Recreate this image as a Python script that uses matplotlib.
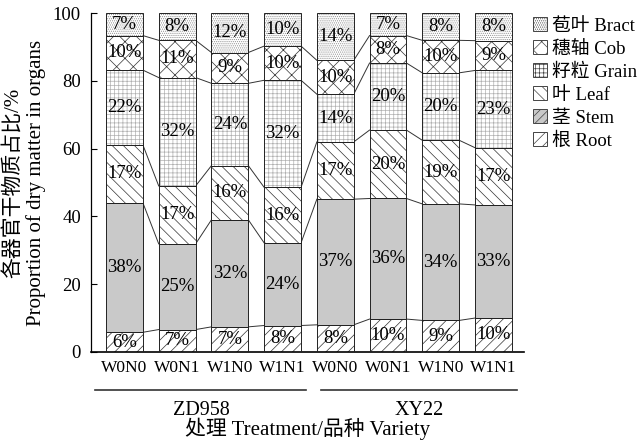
import numpy as np
import matplotlib
matplotlib.use("Agg")
import matplotlib.pyplot as plt
from matplotlib.patches import Patch

plt.rcParams['font.family'] = ['Liberation Serif', 'Noto Sans CJK SC']
plt.rcParams['hatch.linewidth'] = 0.5

treatments = ['W0N0', 'W0N1', 'W1N0', 'W1N1', 'W0N0', 'W0N1', 'W1N0', 'W1N1']
varieties = ['ZD958', 'XY22']

# dry matter share of each organ (%), bottom to top
root = [5.8, 6.6, 7.4, 7.8, 8.0, 9.7, 9.3, 10.0]
stem = [38.2, 25.3, 31.6, 24.4, 37.1, 35.6, 34.4, 33.4]
leaf = [17.1, 17.1, 16.0, 16.4, 16.9, 20.2, 18.8, 16.9]
grain = [22.1, 32.0, 24.3, 31.6, 14.1, 19.8, 19.9, 22.8]
cob = [10.2, 11.0, 9.1, 10.1, 10.0, 8.1, 9.6, 8.8]
bract = [6.6, 8.0, 11.6, 9.7, 13.9, 6.6, 8.0, 8.1]

organs = ['根 Root', '茎 Stem', '叶 Leaf', '籽粒 Grain', '穗轴 Cob', '苞叶 Bract']
hatches = ['///', '', '\\\\\\', '++++', 'xx', '........']
faces = ['white', '#c9c9c9', 'white', 'white', 'white', 'white']
hatch_cols = ['#333333', '#c9c9c9', '#333333', '#b0b0b0', '#333333', '#8a8a8a']

data = np.array([root, stem, leaf, grain, cob, bract])
x = np.arange(len(treatments))
w = 0.70

fig = plt.figure(figsize=(6.39, 4.41), dpi=100)
ax = fig.add_axes([0.142, 0.202, 0.678, 0.768])

bottom = np.zeros(len(x))
for k in range(len(organs)):
    # hatch layer first, black outline on top
    ax.bar(x, data[k], w, bottom=bottom, color=faces[k], hatch=hatches[k],
           edgecolor=hatch_cols[k], linewidth=0, zorder=2)
    ax.bar(x, data[k], w, bottom=bottom, fill=False, edgecolor='#222222',
           linewidth=0.7, zorder=3)
    for i in x:
        ax.text(i, bottom[i] + data[k][i] / 2, f"{data[k][i]:.0f}%",
                ha='center', va='center', fontsize=13.5, zorder=4)
    bottom = bottom + data[k]

# lines joining segment tops of neighbouring bars
cum = np.cumsum(data, axis=0)
for k in range(len(organs) - 1):
    for i in range(len(x) - 1):
        ax.plot([x[i] + w / 2, x[i + 1] - w / 2], [cum[k, i], cum[k, i + 1]],
                color='#333333', lw=0.7, zorder=1)

ax.set_xlim(-0.64, 7.58)
ax.set_ylim(0, 100)
ax.set_yticks([0, 20, 40, 60, 80, 100])
ax.tick_params(axis='y', direction='in', length=4, labelsize=13.5, width=0.8, pad=7)
ax.set_xticks(x)
ax.set_xticklabels(treatments, fontsize=12.5)
ax.tick_params(axis='x', length=0, pad=6)
for s in ['top', 'right']:
    ax.spines[s].set_visible(False)
ax.spines['left'].set_linewidth(0.9)
ax.spines['bottom'].set_linewidth(1.2)

ax.set_ylabel('各器官干物质占比/%\nProportion of dry matter in organs',
              fontsize=15, linespacing=1.1)
ax.yaxis.set_label_coords(-0.104, 0.5)

# variety brackets under the treatment labels
tr = ax.get_xaxis_transform()
for (a, b), name in zip([(-0.55, 3.45), (3.72, 7.45)], varieties):
    ax.plot([a, b], [-0.112, -0.112], color='#333333', lw=1.2,
            transform=tr, clip_on=False)
    ax.text((a + b) / 2, -0.174, name, ha='center', va='center',
            fontsize=14.5, transform=tr)
ax.text(0.5, -0.228, '处理 Treatment/品种 Variety', ha='center', va='center',
        fontsize=15, transform=ax.transAxes)

handles = [Patch(facecolor=faces[k], hatch=hatches[k] if hatches[k] else '////',
                 edgecolor='#444444', linewidth=0.7)
           for k in range(len(organs))][::-1]
fig.legend(handles, organs[::-1], loc='upper left',
           bbox_to_anchor=(0.822, 0.978), frameon=False, fontsize=13.5,
           handlelength=0.75, handleheight=0.75, handletextpad=0.3,
           labelspacing=0.3, borderaxespad=0)

fig.savefig('out.png', dpi=100)
